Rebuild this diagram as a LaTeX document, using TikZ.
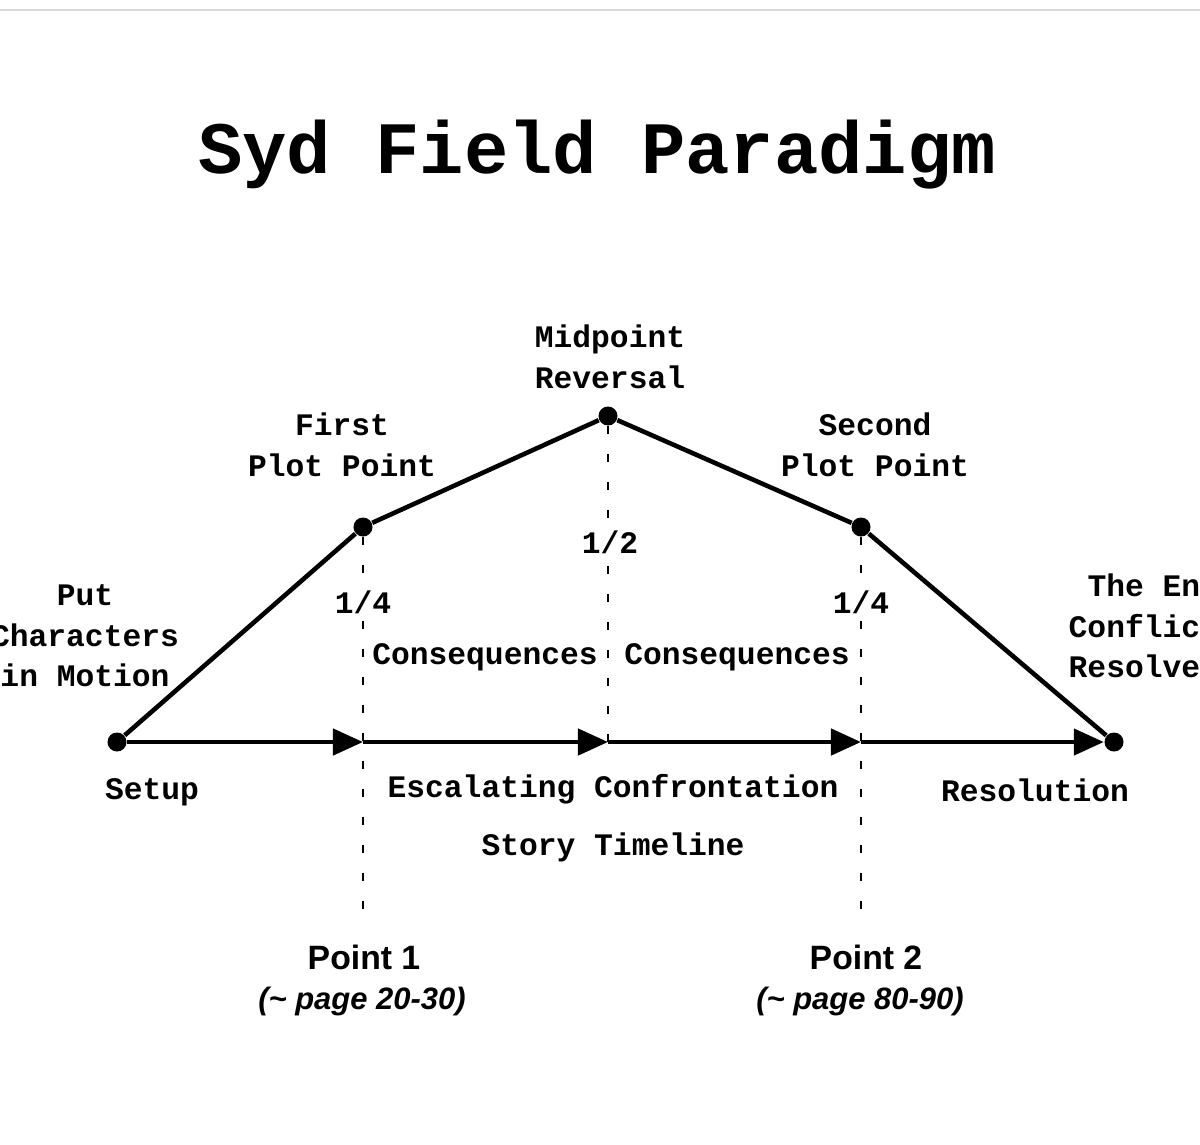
\documentclass[tikz,border=0pt]{standalone}
\usepackage{fontspec}
\setmonofont{Liberation Mono}
\setsansfont{Liberation Sans}
\usetikzlibrary{arrows.meta}
\begin{document}
\begin{tikzpicture}[x=0.01cm,y=-0.01cm,
  lab/.style={font=\ttfamily\bfseries\fontsize{8.9pt}{11.5pt}\selectfont,align=center,inner sep=0},
  pt/.style={font=\sffamily\bfseries\fontsize{9.6pt}{11pt}\selectfont,inner sep=0},
  pg/.style={font=\sffamily\bfseries\itshape\fontsize{8.8pt}{11pt}\selectfont,inner sep=0},
  dot/.style={circle,fill=black,inner sep=0,minimum size=0.19cm},
  arr/.style={line width=1.3pt,-{Triangle[length=0.3cm,width=0.26cm]}},
  plot/.style={line width=1.3pt},
  guide/.style={line width=0.8pt,dash pattern=on 0.08cm off 0.2cm}]
\useasboundingbox (0,0) rectangle (1200,1144);
\clip (0,0) rectangle (1200,1144);
\draw[gray!30,line width=0.6pt] (0,10) -- (1200,10);
\node[font=\ttfamily\bfseries\fontsize{21pt}{24pt}\selectfont,inner sep=0] (title) at (597,155) {Syd Field Paradigm};
\node[dot] (s) at (117,742) {};
\node[dot] (p1) at (363,527) {};
\node[dot] (m) at (608,416) {};
\node[dot] (p2) at (861,527) {};
\node[dot] (e) at (1114,742) {};
\coordinate (a1) at (363,742);
\coordinate (a2) at (608,742);
\coordinate (a3) at (861,742);
\coordinate (b1) at (363,922);
\coordinate (b3) at (861,922);
\draw[plot] (s) -- (p1) -- (m) -- (p2) -- (e);
\draw[arr] (s) -- (a1);
\draw[arr] (a1) -- (a2);
\draw[arr] (a2) -- (a3);
\draw[arr] (a3) -- (e);
\draw[guide] (p1) -- (b1);
\draw[guide] (m) -- (a2);
\draw[guide] (p2) -- (b3);
\node[lab] (tm) at (610,357) {Midpoint\\Reversal};
\node[lab] (tf) at (342,445) {First\\Plot Point};
\node[lab] (ts) at (875,445) {Second\\Plot Point};
\node[lab] (tp) at (85,636) {Put\\Characters\\in Motion};
\node[lab,align=left,anchor=west] (te) at (1068,626) {\ The End\\Conflict\\Resolved};
\node[lab,fill=white,inner sep=2pt] (q1) at (363,602) {1/4};
\node[lab,fill=white,inner sep=2pt] (h) at (610,542) {1/2};
\node[lab,fill=white,inner sep=2pt] (q2) at (861,602) {1/4};
\node[lab] (c1) at (485,657) {Consequences};
\node[lab] (c2) at (737,657) {Consequences};
\node[lab] (su) at (152,792) {Setup};
\node[lab] (es) at (613,789) {Escalating Confrontation};
\node[lab] (re) at (1035,790) {Resolution};
\node[lab] (st) at (613,847) {Story Timeline};
\node[pt] (pp1) at (364,957) {Point 1};
\node[pg] (pg1) at (362,1001) {(\textasciitilde{} page 20-30)};
\node[pt] (pp2) at (866,957) {Point 2};
\node[pg] (pg2) at (860,1001) {(\textasciitilde{} page 80-90)};
\end{tikzpicture}
\end{document}
